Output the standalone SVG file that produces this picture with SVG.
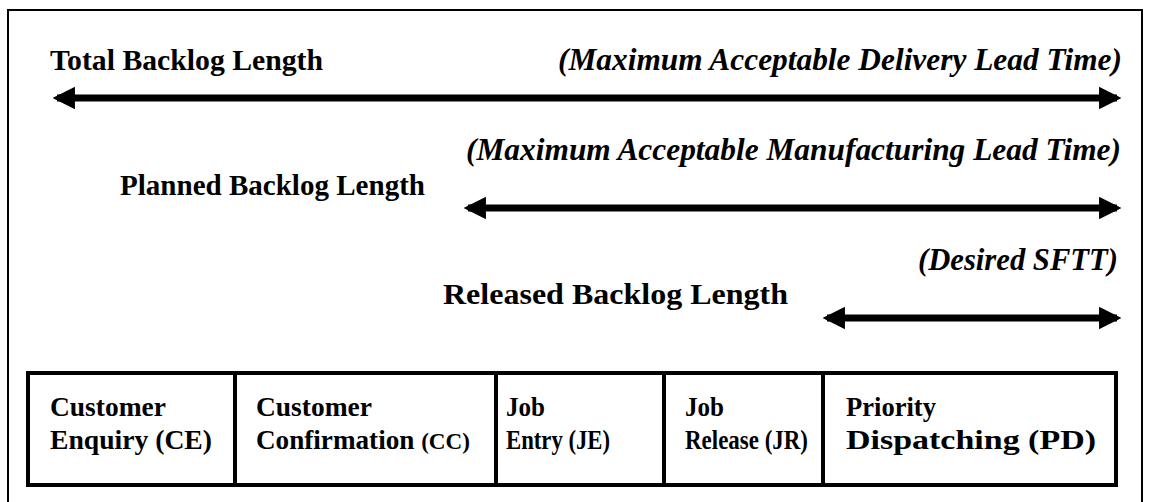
<svg xmlns="http://www.w3.org/2000/svg" width="1149" height="502" viewBox="0 0 1149 502">
  <style>
    text { font-family: "Liberation Serif", "Times New Roman", serif; font-weight: bold; fill: #000; }
    .lbl { font-size: 29px; }
    .it { font-style: italic; font-size: 31px; }
    .box { fill: #fff; stroke: #000; stroke-width: 4; }
    .bt { font-size: 27px; }
    .arr { stroke: #000; stroke-width: 7; fill: none; marker-start: url(#head); marker-end: url(#head); }
  </style>
  <defs>
    <marker id="head" viewBox="0 0 10 10" refX="8" refY="5" markerWidth="3.2" markerHeight="3.2" orient="auto-start-reverse" markerUnits="strokeWidth">
      <path d="M0,0 L10,5 L0,10 z" fill="#000"/>
    </marker>
  </defs>

  <!-- outer frame -->
  <rect x="8" y="10" width="1134" height="500" fill="#fff" stroke="#000" stroke-width="2"/>

  <!-- span labels -->
  <g id="total-label">
    <text class="lbl" x="50" y="70" textLength="273" lengthAdjust="spacingAndGlyphs">Total Backlog Length</text>
    <text class="it" x="558" y="70" textLength="564" lengthAdjust="spacingAndGlyphs">(Maximum Acceptable Delivery Lead Time)</text>
  </g>
  <g id="planned-label">
    <text class="it" x="466" y="160" textLength="655" lengthAdjust="spacingAndGlyphs">(Maximum Acceptable Manufacturing Lead Time)</text>
    <text class="lbl" x="120" y="195" textLength="305" lengthAdjust="spacingAndGlyphs">Planned Backlog Length</text>
  </g>
  <g id="released-label">
    <text class="it" x="918" y="270" textLength="200" lengthAdjust="spacingAndGlyphs">(Desired SFTT)</text>
    <text class="lbl" x="443" y="304" textLength="345" lengthAdjust="spacingAndGlyphs">Released Backlog Length</text>
  </g>

  <!-- span arrows -->
  <g id="connectors">
    <line class="arr" x1="57" y1="98" x2="1117" y2="98"/>
    <line class="arr" x1="468" y1="208" x2="1117" y2="208"/>
    <line class="arr" x1="827" y1="318" x2="1117" y2="318"/>
  </g>

  <!-- process stages -->
  <g id="ce">
    <rect class="box" x="28" y="373" width="207" height="112"/>
    <text class="bt" x="50" y="416" textLength="116" lengthAdjust="spacingAndGlyphs">Customer</text>
    <text class="bt" x="50" y="449" textLength="162" lengthAdjust="spacingAndGlyphs">Enquiry (CE)</text>
  </g>
  <g id="cc">
    <rect class="box" x="235" y="373" width="261" height="112"/>
    <text class="bt" x="256" y="416" textLength="116" lengthAdjust="spacingAndGlyphs">Customer</text>
    <text class="bt" x="256" y="449" textLength="214" lengthAdjust="spacingAndGlyphs">Confirmation <tspan font-size="23">(CC)</tspan></text>
  </g>
  <g id="je">
    <rect class="box" x="496" y="373" width="168" height="112"/>
    <text class="bt" x="506" y="416" textLength="39" lengthAdjust="spacingAndGlyphs">Job</text>
    <text class="bt" x="506" y="449" textLength="104" lengthAdjust="spacingAndGlyphs">Entry (JE)</text>
  </g>
  <g id="jr">
    <rect class="box" x="664" y="373" width="159" height="112"/>
    <text class="bt" x="685" y="416" textLength="39" lengthAdjust="spacingAndGlyphs">Job</text>
    <text class="bt" x="685" y="449" textLength="123" lengthAdjust="spacingAndGlyphs">Release (JR)</text>
  </g>
  <g id="pd">
    <rect class="box" x="823" y="373" width="293" height="112"/>
    <text class="bt" x="846" y="416" textLength="90" lengthAdjust="spacingAndGlyphs">Priority</text>
    <text class="bt" x="846" y="449" textLength="250" lengthAdjust="spacingAndGlyphs">Dispatching (PD)</text>
  </g>
</svg>
